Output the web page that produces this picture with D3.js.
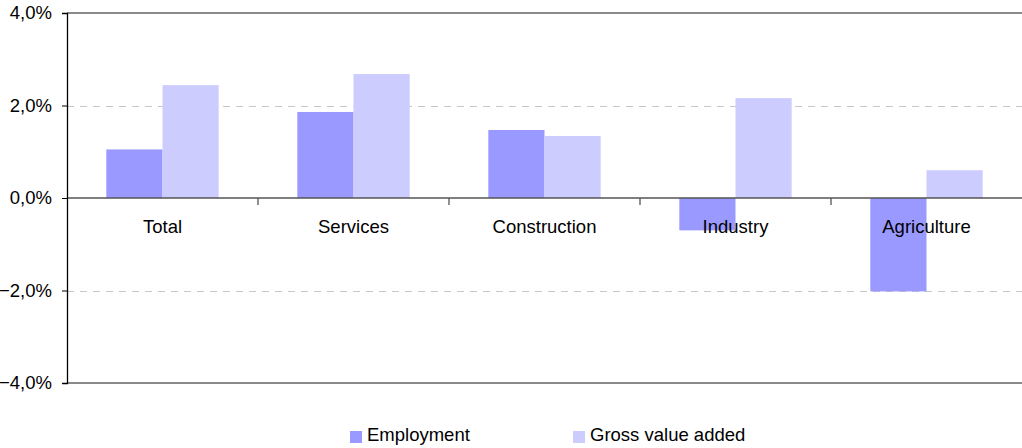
<!DOCTYPE html>
<html>
<head>
<meta charset="utf-8">
<script src="https://cdn.jsdelivr.net/npm/d3@7"></script>
<style>
  html, body { margin: 0; padding: 0; background: #fff; }
  svg { display: block; font-family: "Liberation Sans", Arial, sans-serif; }
</style>
</head>
<body>
<svg id="chart" width="1022" height="448"></svg>
<script>
// Sector growth rates, percent
const categories = ["Total", "Services", "Construction", "Industry", "Agriculture"];
const employment = [1.05, 1.86, 1.47, -0.70, -2.02];
const grossValueAdded = [2.44, 2.68, 1.34, 2.16, 0.60];
const seriesNames = ["Employment", "Gross value added"];
const yTicks = [-4, -2, 0, 2, 4];

const colors = ["#9999ff", "#ccccff"];
const fontSize = 18.5;

const svg = d3.select("#chart");
const plot = { left: 67, right: 1022, top: 13, bottom: 383 };

const x = d3.scaleBand().domain(categories).range([plot.left, plot.right]);
const inner = d3.scaleBand().domain(seriesNames).range([0, x.bandwidth()]).paddingInner(0).paddingOuter(0.7);
const y = d3.scaleLinear().domain([-4, 4]).range([plot.bottom, plot.top]);

const fmt = v => d3.format(".1f")(v).replace(".", ",") + "%";

// dashed gridlines at +/-2%
svg.append("g").selectAll("line")
  .data(yTicks.filter(t => t !== 0 && Math.abs(t) !== 4))
  .join("line")
  .attr("x1", plot.left).attr("x2", plot.right)
  .attr("y1", d => Math.round(y(d)) + 0.5).attr("y2", d => Math.round(y(d)) + 0.5)
  .attr("stroke", "#c8c8c8").attr("stroke-dasharray", "7,6");

// top and bottom frame lines
[4, -4].forEach(v => {
  svg.append("line")
    .attr("x1", plot.left).attr("x2", plot.right)
    .attr("y1", y(v)).attr("y2", y(v))
    .attr("stroke", "#8a8a8a").attr("stroke-width", 2);
});

// bars
const rows = categories.map((c, i) => ({ cat: c, vals: [employment[i], grossValueAdded[i]] }));
const groups = svg.append("g").selectAll("g")
  .data(rows).join("g")
  .attr("transform", d => `translate(${x(d.cat)},0)`);
groups.selectAll("rect")
  .data(d => d.vals.map((v, j) => ({ name: seriesNames[j], v, j })))
  .join("rect")
  .attr("x", d => inner(d.name))
  .attr("width", inner.bandwidth())
  .attr("y", d => y(Math.max(0, d.v)))
  .attr("height", d => Math.abs(y(d.v) - y(0)))
  .attr("fill", d => colors[d.j]);

// zero baseline with category separators
const zeroY = y(0);
svg.append("line")
  .attr("x1", plot.left).attr("x2", plot.right)
  .attr("y1", zeroY).attr("y2", zeroY)
  .attr("stroke", "#555").attr("stroke-width", 1.3);
svg.append("g").selectAll("line")
  .data(categories.slice(1))
  .join("line")
  .attr("x1", d => x(d)).attr("x2", d => x(d))
  .attr("y1", zeroY).attr("y2", zeroY + 7)
  .attr("stroke", "#555").attr("stroke-width", 1.3);

// category labels
svg.append("g").selectAll("text")
  .data(categories)
  .join("text")
  .attr("x", d => x(d) + x.bandwidth() / 2)
  .attr("y", 233)
  .attr("text-anchor", "middle")
  .attr("font-size", fontSize)
  .attr("fill", "#000")
  .text(d => d);

// y axis
const yAxis = d3.axisLeft(y).tickValues(yTicks).tickSize(5).tickPadding(10).tickFormat(fmt);
const ya = svg.append("g").attr("transform", `translate(${plot.left},0)`).call(yAxis);
ya.select(".domain").attr("stroke", "#000").attr("stroke-width", 1.3);
ya.selectAll(".tick line").attr("stroke", "#000");
ya.selectAll(".tick text")
  .attr("font-size", fontSize)
  .attr("font-family", "Liberation Sans, Arial, sans-serif")
  .attr("fill", "#000");

// legend
const legendX = [350, 573];
const lg = svg.append("g").selectAll("g")
  .data(seriesNames).join("g")
  .attr("transform", (d, i) => `translate(${legendX[i]},0)`);
lg.append("rect").attr("x", 0).attr("y", 431).attr("width", 12).attr("height", 12)
  .attr("fill", (d, i) => colors[i]);
lg.append("text").attr("x", 17).attr("y", 441)
  .attr("font-size", fontSize).attr("fill", "#000")
  .text(d => d);
</script>
</body>
</html>
